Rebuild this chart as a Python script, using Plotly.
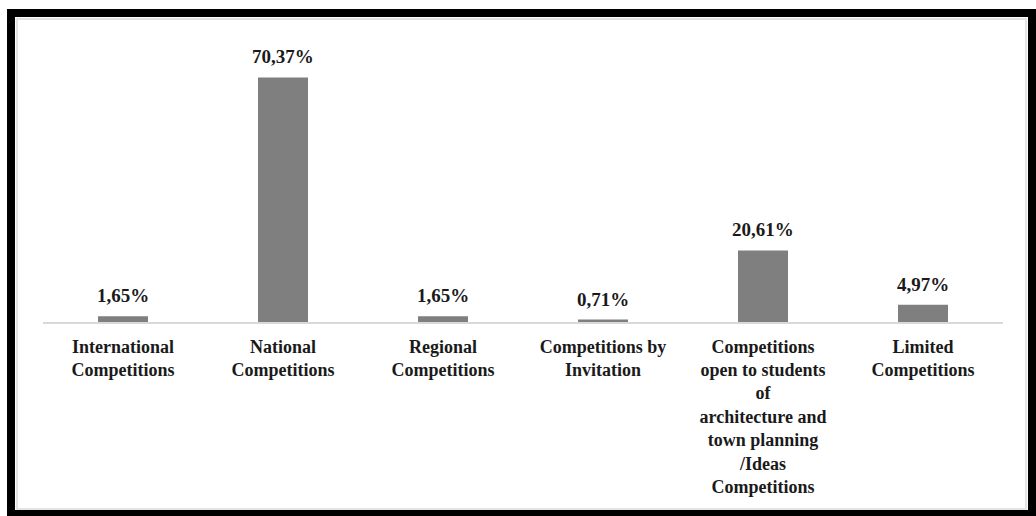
import plotly.graph_objects as go

categories = [
    "International<br>Competitions",
    "National<br>Competitions",
    "Regional<br>Competitions",
    "Competitions by<br>Invitation",
    "Competitions<br>open to students<br>of<br>architecture and<br>town planning<br>/Ideas<br>Competitions",
    "Limited<br>Competitions",
]
values = [1.65, 70.37, 1.65, 0.71, 20.61, 4.97]
value_labels = ["1,65%", "70,37%", "1,65%", "0,71%", "20,61%", "4,97%"]

W, H = 1036, 516
L, R, T, B = 43, 33, 44, 194
pw, ph = W - L - R, H - T - B

def px_x(p):
    return (p - L) / pw

def px_y(p):
    return (H - B - p) / ph

FONT = "Liberation Serif, Times New Roman, serif"

fig = go.Figure()
fig.add_trace(go.Bar(
    x=categories, y=values,
    marker=dict(color="#7f7f7f", line=dict(width=0)),
    width=0.3125,
    hoverinfo="skip",
))

for c, v, t in zip(categories, values, value_labels):
    fig.add_annotation(
        x=c, y=v, text=t, showarrow=False, yanchor="bottom", yshift=8,
        font=dict(family=FONT, size=19, color="#1a1a1a", weight="bold"),
    )

# frame
fig.add_shape(type="rect", xref="paper", yref="paper",
              x0=px_x(17), x1=px_x(1026), y0=px_y(19), y1=px_y(509),
              line=dict(color="#e4e4e4", width=2), layer="above")
fig.add_shape(type="rect", xref="paper", yref="paper",
              x0=px_x(11), x1=px_x(1032), y0=px_y(13), y1=px_y(514),
              line=dict(color="#000000", width=8), layer="above")

fig.update_layout(
    width=W, height=H,
    margin=dict(l=L, r=R, t=T, b=B),
    paper_bgcolor="white", plot_bgcolor="white",
    showlegend=False,
    xaxis=dict(
        showline=True, linecolor="#d9d9d9", linewidth=2,
        ticks="", showgrid=False, tickangle=0, ticklabelstandoff=7,
        tickfont=dict(family=FONT, size=18, color="#1a1a1a", weight="bold"),
    ),
    yaxis=dict(range=[0, 80], visible=False, showgrid=False, zeroline=False),
)

fig.write_html("out.html")
